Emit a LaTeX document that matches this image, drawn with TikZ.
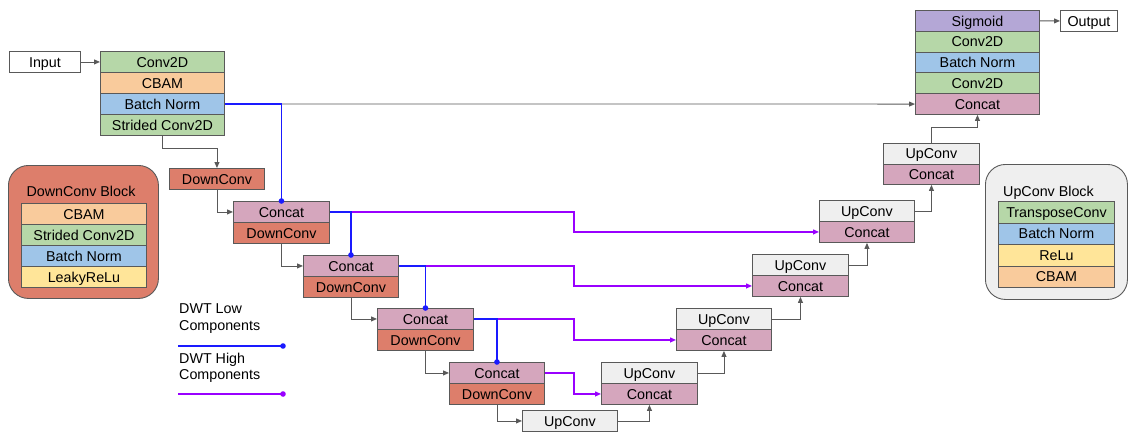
\documentclass[tikz,border=0pt]{standalone}
\usepackage{fontspec}
\setmainfont{Liberation Sans}
\usetikzlibrary{arrows.meta,calc}
\definecolor{bord}{HTML}{595959}
\definecolor{cgreen}{HTML}{B6D7A8}
\definecolor{corange}{HTML}{F9CB9C}
\definecolor{cblue}{HTML}{9FC5E8}
\definecolor{cyellow}{HTML}{FFE599}
\definecolor{csalmon}{HTML}{DD7E6B}
\definecolor{cpink}{HTML}{D5A6BD}
\definecolor{cviolet}{HTML}{B4A7D6}
\definecolor{cgray}{HTML}{EFEFEF}
\definecolor{lowblue}{HTML}{1A1AFF}
\definecolor{highpurple}{HTML}{9900FF}
\begin{document}
\begin{tikzpicture}[x=1pt,y=-1pt,
  font=\fontsize{14.3}{16.5}\selectfont,
  cell/.style={draw=bord, line width=0.9pt, anchor=north west, inner sep=0pt,
    minimum width=#1, minimum height=21pt, text height=10.3pt, text depth=0pt},
  tallcell/.style={cell=#1, minimum height=20.8pt},
  blockbox/.style={draw=bord, line width=0.9pt, rounded corners=20pt, anchor=north west, inner sep=0pt},
  arr/.style={draw=bord, line width=0.9pt, -{Triangle[length=6pt,width=5pt]}},
  low/.style={draw=lowblue, line width=1.1pt},
  high/.style={draw=highpurple, line width=1.1pt, -{Triangle[length=6pt,width=5pt]}},
  dotlow/.style={fill=lowblue},
  dothigh/.style={fill=highpurple}
]
\useasboundingbox (0,0) rectangle (1132,432);

% input and main stack
\node[cell=71pt, fill=white] (input) at (9,51) {Input};
\node[cell=124pt, fill=cgreen] (mconv) at (100,51) {Conv2D};
\node[cell=124pt, fill=corange] (mcbam) at (100,72) {CBAM};
\node[cell=124pt, fill=cblue] (mbn) at (100,93) {Batch Norm};
\node[cell=124pt, fill=cgreen] (mstr) at (100,114) {Strided Conv2D};
\node[cell=95pt, fill=csalmon] (d0) at (169,168) {DownConv};

% DownConv block legend
\node[blockbox, fill=csalmon, minimum width=150pt, minimum height=133pt] (dblock) at (8,165) {};
\node[anchor=base, inner sep=0pt] (dtitle) at (81,196) {DownConv Block};
\node[cell=125pt, fill=corange] (db1) at (21,203) {CBAM};
\node[cell=125pt, fill=cgreen] (db2) at (21,224) {Strided Conv2D};
\node[cell=125pt, fill=cblue] (db3) at (21,245) {Batch Norm};
\node[cell=125pt, fill=cyellow] (db4) at (21,266) {LeakyReLu};

% encoder
\node[cell=96pt, fill=cpink] (c1) at (233,201) {Concat};
\node[cell=96pt, fill=csalmon] (dc1) at (233,222) {DownConv};
\node[cell=95pt, fill=cpink] (c2) at (303,255) {Concat};
\node[cell=95pt, fill=csalmon] (dc2) at (303,276) {DownConv};
\node[cell=96pt, fill=cpink] (c3) at (377,308) {Concat};
\node[cell=96pt, fill=csalmon] (dc3) at (377,329) {DownConv};
\node[cell=95pt, fill=cpink] (c4) at (449,362) {Concat};
\node[cell=95pt, fill=csalmon] (dc4) at (449,383) {DownConv};
\node[cell=95pt, fill=cgray] (u0) at (522,410) {UpConv};

% decoder
\node[cell=96pt, fill=cgray] (u1) at (601,362) {UpConv};
\node[cell=96pt, fill=cpink] (uc1) at (601,383) {Concat};
\node[cell=95pt, fill=cgray] (u2) at (676,308) {UpConv};
\node[cell=95pt, fill=cpink] (uc2) at (676,329) {Concat};
\node[cell=96pt, fill=cgray] (u3) at (752,254) {UpConv};
\node[cell=96pt, fill=cpink] (uc3) at (752,275) {Concat};
\node[cell=95pt, fill=cgray] (u4) at (819,200) {UpConv};
\node[cell=95pt, fill=cpink] (uc4) at (819,221) {Concat};
\node[tallcell=96pt, fill=cgray, minimum height=20.5pt] (u5) at (883,143) {UpConv};
\node[tallcell=96pt, fill=cpink, minimum height=20.5pt] (uc5) at (883,163.5) {Concat};

% top stack
\node[tallcell=124pt, fill=cviolet] (ts) at (915,10) {Sigmoid};
\node[tallcell=124pt, fill=cgreen] (tc1) at (915,30.8) {Conv2D};
\node[tallcell=124pt, fill=cblue] (tbn) at (915,51.6) {Batch Norm};
\node[tallcell=124pt, fill=cgreen] (tc2) at (915,72.4) {Conv2D};
\node[tallcell=124pt, fill=cpink] (tcat) at (915,93.2) {Concat};
\node[cell=57pt, fill=white] (output) at (1060,10) {Output};

% UpConv block legend
\node[blockbox, fill=cgray, minimum width=142pt, minimum height=135pt] (ublock) at (985,164) {};
\node[anchor=base west, inner sep=0pt] (utitle) at (1003,196) {UpConv Block};
\node[cell=116pt, fill=cgreen, minimum height=21.5pt] (ub1) at (998,201) {TransposeConv};
\node[cell=116pt, fill=cblue, minimum height=21.5pt] (ub2) at (998,222.5) {Batch Norm};
\node[cell=116pt, fill=cyellow, minimum height=21.5pt] (ub3) at (998,244) {ReLu};
\node[cell=116pt, fill=corange, minimum height=21.5pt] (ub4) at (998,265.5) {CBAM};

% legend
\node[anchor=north west, align=left, inner sep=0pt] (lowtxt) at (179,303.5) {DWT Low\\Components};
\node[anchor=north west, align=left, inner sep=0pt] (hightxt) at (179,352.5) {DWT High\\Components};
\coordinate (lbA) at (178,346);
\coordinate (lbB) at (283,346);
\coordinate (lpA) at (178,394);
\coordinate (lpB) at (283,394);
\draw[low] (lbA) -- (lbB);
\fill[dotlow] (lbB) circle (2.8);
\draw[draw=highpurple, line width=1.1pt] (lpA) -- (lpB);
\fill[dothigh] (lpB) circle (2.8);

% gray connectors
\draw[arr] (input.east) -- (mconv.west);
\draw[arr] (mstr.south) -- ++(0,13) -| (d0.north);
\draw[arr] (d0.south) |- (c1.west);
\draw[arr] (dc1.south) |- (c2.west);
\draw[arr] (dc2.south) |- (c3.west);
\draw[arr] (dc3.south) |- (c4.west);
\draw[arr] (dc4.south) |- (u0.west);
\draw[arr] (u0.east) -| (uc1.south);
\draw[arr] (u1.east) -| (uc2.south);
\draw[arr] (u2.east) -| (uc3.south);
\draw[arr] (u3.east) -| (uc4.south);
\draw[arr] (u4.east) -| (uc5.south);
\draw[arr] (u5.north) -- ++(0,-16) -| (tcat.south);
\draw[arr] (mbn.east) -- (tcat.west);
\draw[arr] (ts.east) -- (output.west);

% high components
\coordinate (px) at (574,0);
\draw[high] (c1.east) -- (c1.east -| px) |- (uc4.west);
\draw[high] (c2.east) -- (c2.east -| px) |- (uc3.west);
\draw[high] (c3.east) -- (c3.east -| px) |- (uc2.west);
\draw[high] (c4.east) -- (c4.east -| px) |- (uc1.west);

% low components
\draw[low] (mbn.east) -| (c1.north);
\fill[dotlow] (c1.north) circle (2.8);
\draw[low] (c1.east) -| (c2.north);
\fill[dotlow] (c2.north) circle (2.8);
\draw[low] (c2.east) -| (c3.north);
\fill[dotlow] (c3.north) circle (2.8);
\draw[low] (c3.east) -| (c4.north);
\fill[dotlow] (c4.north) circle (2.8);
\end{tikzpicture}
\end{document}
